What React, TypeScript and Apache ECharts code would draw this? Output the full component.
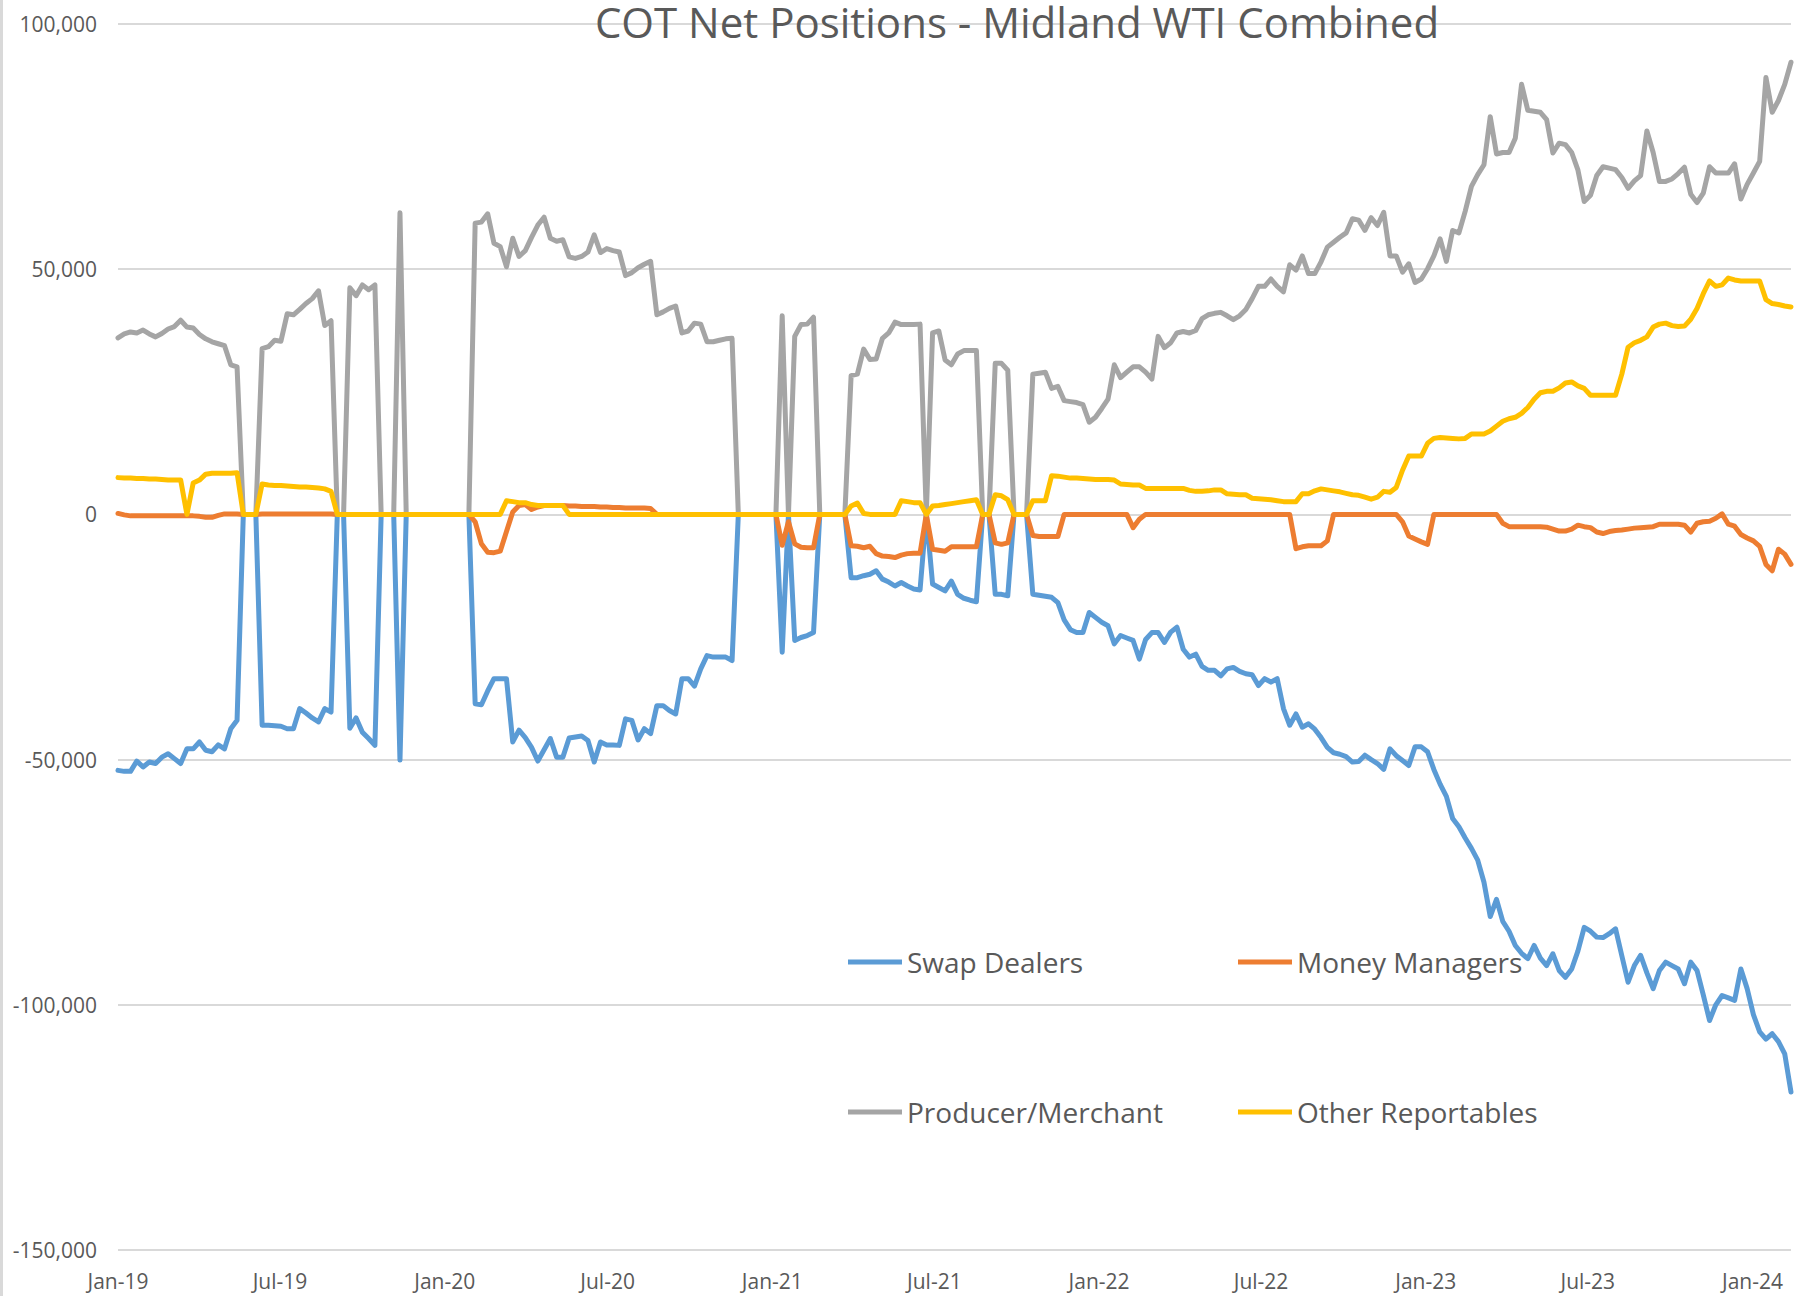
import React, { useEffect, useRef } from "react";
import * as echarts from "echarts";

// ---------------- data (weekly COT reports, thousands of contracts) ----------------
const chartTitle = "COT Net Positions - Midland WTI Combined";
const firstReportDate = "2019-01-01"; // weekly (Tuesday) reports from this date
const seriesNames = ["Swap Dealers", "Money Managers", "Producer/Merchant", "Other Reportables"];
const seriesColors = ["#5B9BD5", "#ED7D31", "#A5A5A5", "#FFC000"];
const xTickLabels = ["Jan-19", "Jul-19", "Jan-20", "Jul-20", "Jan-21", "Jul-21", "Jan-22", "Jul-22", "Jan-23", "Jul-23", "Jan-24"];
const yTicks = [-150000, -100000, -50000, 0, 50000, 100000];

const swapDealers = [
  -52.2, -52.4, -52.4, -50.3, -51.5, -50.5, -50.8, -49.5, -48.8, -49.8,
  -50.8, -47.8, -47.8, -46.4, -48.1, -48.4, -47.0, -47.8, -43.7, -42.0,
  0, 0, 0, -43.0, -43.0, -43.1, -43.2, -43.7, -43.7, -39.6,
  -40.5, -41.5, -42.3, -39.6, -40.3, 0, 0, -43.6, -41.5, -44.4,
  -45.7, -47.1, 0, 0, 0, -50.1, 0, 0, 0, 0,
  0, 0, 0, 0, 0, 0, 0, -38.6, -38.8, -36.0,
  -33.5, -33.5, -33.5, -46.4, -44.0, -45.5, -47.5, -50.3, -48.0, -45.7,
  -49.5, -49.5, -45.6, -45.4, -45.2, -46.1, -50.5, -46.4, -47.0, -47.0,
  -47.1, -41.7, -42.0, -46.0, -43.7, -44.7, -39.0, -39.0, -40.0, -40.7,
  -33.5, -33.5, -35.0, -31.5, -28.8, -29.1, -29.1, -29.1, -29.8, 0,
  0, 0, 0, 0, 0, 0, -28.1, 0, -25.7, -25.1,
  -24.7, -24.1, 0, 0, 0, 0, 0, -12.9, -12.9, -12.5,
  -12.2, -11.5, -13.2, -13.8, -14.6, -13.9, -14.6, -15.2, -15.4, 0,
  -14.2, -14.9, -15.6, -13.6, -16.3, -17.1, -17.5, -17.8, 0, 0,
  -16.3, -16.3, -16.6, 0, 0, 0, -16.3, -16.5, -16.7, -16.9,
  -18.0, -21.5, -23.5, -24.1, -24.1, -20.0, -21.0, -22.0, -22.7, -26.4,
  -24.7, -25.2, -25.7, -29.5, -25.5, -24.1, -24.1, -26.1, -24.0, -23.0,
  -27.5, -29.1, -28.5, -31.0, -31.8, -31.8, -32.9, -31.5, -31.2, -32.0,
  -32.5, -32.7, -34.9, -33.5, -34.2, -33.5, -39.6, -43.0, -40.7, -43.4,
  -42.7, -43.8, -45.5, -47.5, -48.6, -48.9, -49.4, -50.5, -50.4, -49.1,
  -50.0, -50.8, -52.0, -47.8, -49.2, -50.2, -51.2, -47.4, -47.4, -48.4,
  -52.0, -55.0, -57.5, -62.0, -63.7, -66.0, -68.1, -70.5, -75.0, -82.0,
  -78.5, -83.0, -85.0, -87.9, -89.5, -90.6, -87.9, -90.5, -92.0, -89.6,
  -93.0, -94.4, -92.7, -89.0, -84.2, -85.0, -86.2, -86.3, -85.5, -84.5,
  -90.0, -95.4, -92.0, -89.9, -93.5, -96.7, -93.0, -91.3, -92.0, -92.7,
  -95.7, -91.3, -93.0, -98.0, -103.2, -100.0, -98.1, -98.6, -99.1, -92.7,
  -96.7, -102.0, -105.5, -107.0, -105.9, -107.5, -110.0, -117.8,
];

const moneyManagers = [
  0.2, -0.1, -0.3, -0.3, -0.3, -0.3, -0.3, -0.3, -0.3, -0.3,
  -0.3, -0.3, -0.3, -0.4, -0.6, -0.6, -0.2, 0.1, 0.1, 0.1,
  0, 0, 0, 0.1, 0.1, 0.1, 0.1, 0.1, 0.1, 0.1,
  0.1, 0.1, 0.1, 0.1, 0.1, 0, 0, 0, 0, 0,
  0, 0, 0, 0, 0, 0, 0, 0, 0, 0,
  0, 0, 0, 0, 0, 0, 0, -1.5, -6.0, -7.7,
  -7.8, -7.5, -3.5, 0.5, 1.8, 2.0, 1.0, 1.5, 1.8, 1.8,
  1.8, 1.8, 1.7, 1.7, 1.6, 1.6, 1.6, 1.5, 1.5, 1.4,
  1.4, 1.3, 1.3, 1.3, 1.3, 1.2, 0, 0, 0, 0,
  0, 0, 0, 0, 0, 0, 0, 0, 0, 0,
  0, 0, 0, 0, 0, 0, -6.3, -1.5, -6.0, -6.7,
  -6.8, -6.8, 0, 0, 0, 0, 0, -6.4, -6.5, -6.8,
  -6.5, -8.0, -8.5, -8.6, -8.8, -8.3, -8.0, -7.9, -7.9, 0,
  -7.1, -7.3, -7.5, -6.6, -6.6, -6.6, -6.6, -6.6, 0, 0,
  -5.8, -6.1, -5.8, 0, 0, 0, -4.3, -4.5, -4.5, -4.5,
  -4.5, 0, 0, 0, 0, 0, 0, 0, 0, 0,
  0, 0, -2.7, -1.0, 0, 0, 0, 0, 0, 0,
  0, 0, 0, 0, 0, 0, 0, 0, 0, 0,
  0, 0, 0, 0, 0, 0, 0, 0, -7.0, -6.6,
  -6.4, -6.4, -6.4, -5.4, 0, 0, 0, 0, 0, 0,
  0, 0, 0, 0, 0, -1.5, -4.4, -5.0, -5.6, -6.1,
  0, 0, 0, 0, 0, 0, 0, 0, 0, 0,
  0, -1.8, -2.5, -2.5, -2.5, -2.5, -2.5, -2.5, -2.6, -3.0,
  -3.4, -3.4, -3.0, -2.2, -2.5, -2.7, -3.6, -3.9, -3.5, -3.3,
  -3.2, -3.0, -2.8, -2.7, -2.6, -2.5, -2.0, -2.0, -2.0, -2.0,
  -2.2, -3.6, -1.8, -1.5, -1.4, -0.8, 0.1, -2.0, -2.4, -4.1,
  -4.8, -5.4, -6.5, -10.2, -11.5, -7.1, -8.1, -10.2,
];

const producerMerchant = [
  36.0, 36.8, 37.2, 37.0, 37.6, 36.8, 36.2, 36.9, 37.8, 38.3,
  39.6, 38.2, 38.0, 36.7, 35.8, 35.2, 34.8, 34.4, 30.5, 30.1,
  0, 0, 0, 33.8, 34.2, 35.5, 35.3, 40.9, 40.7, 41.8,
  43.0, 44.0, 45.6, 38.5, 39.5, 0, 0, 46.2, 44.6, 46.8,
  45.8, 46.8, 0, 0, 0, 61.5, 0, 0, 0, 0,
  0, 0, 0, 0, 0, 0, 0, 59.4, 59.6, 61.3,
  55.3, 54.6, 50.5, 56.3, 52.6, 53.8, 56.5, 59.0, 60.6, 56.3,
  55.7, 56.0, 52.5, 52.2, 52.6, 53.5, 57.0, 53.4, 54.2, 53.8,
  53.5, 48.7, 49.3, 50.3, 51.0, 51.6, 40.7, 41.3, 42.0, 42.5,
  37.0, 37.4, 39.0, 38.8, 35.2, 35.2, 35.5, 35.8, 35.9, 0,
  0, 0, 0, 0, 0, 0, 40.5, 0, 36.3, 38.7,
  38.8, 40.2, 0, 0, 0, 0, 0, 28.3, 28.6, 33.7,
  31.6, 31.7, 35.9, 37.0, 39.2, 38.7, 38.7, 38.7, 38.8, 0,
  37.0, 37.4, 31.5, 30.5, 32.7, 33.4, 33.4, 33.4, 0, 0,
  30.8, 30.8, 29.4, 0, 0, 0, 28.6, 28.8, 29.0, 25.7,
  26.1, 23.2, 23.0, 22.8, 22.4, 18.8, 19.8, 21.6, 23.5, 30.5,
  27.9, 29.0, 30.1, 30.1, 29.0, 27.6, 36.3, 34.0, 35.0, 37.0,
  37.3, 37.0, 37.5, 39.9, 40.7, 41.0, 41.2, 40.5, 39.7, 40.5,
  41.8, 44.0, 46.5, 46.5, 48.0, 46.5, 45.4, 50.9, 49.8, 52.7,
  49.1, 49.1, 51.5, 54.5, 55.5, 56.5, 57.4, 60.3, 60.0, 57.9,
  60.5, 58.9, 61.6, 52.7, 52.7, 49.4, 51.1, 47.3, 48.0, 50.1,
  52.7, 56.2, 51.6, 57.9, 57.4, 61.8, 66.9, 69.3, 71.3, 81.1,
  73.5, 73.8, 73.8, 76.7, 87.7, 82.4, 82.2, 82.0, 80.5, 73.7,
  75.7, 75.4, 73.8, 70.2, 63.8, 65.1, 69.1, 70.9, 70.6, 70.3,
  68.7, 66.5, 68.0, 69.1, 78.2, 73.8, 67.9, 67.9, 68.4, 69.5,
  70.8, 65.3, 63.6, 65.5, 70.9, 69.6, 69.6, 69.6, 71.5, 64.3,
  67.3, 69.6, 72.0, 89.1, 82.0, 84.4, 87.7, 92.2,
];

const otherReportables = [
  7.5, 7.4, 7.4, 7.3, 7.3, 7.2, 7.2, 7.1, 7.0, 7.0,
  7.0, 0, 6.4, 7.0, 8.2, 8.4, 8.4, 8.4, 8.4, 8.5,
  0, 0, 0, 6.2, 6.0, 5.9, 5.9, 5.8, 5.7, 5.6,
  5.6, 5.5, 5.4, 5.2, 4.7, 0, 0, 0, 0, 0,
  0, 0, 0, 0, 0, 0, 0, 0, 0, 0,
  0, 0, 0, 0, 0, 0, 0, 0, 0, 0,
  0, 0, 2.8, 2.6, 2.4, 2.4, 2.0, 1.8, 1.8, 1.8,
  1.8, 1.8, 0, 0, 0, 0, 0, 0, 0, 0,
  0, 0, 0, 0, 0, 0, 0, 0, 0, 0,
  0, 0, 0, 0, 0, 0, 0, 0, 0, 0,
  0, 0, 0, 0, 0, 0, 0, 0, 0, 0,
  0, 0, 0, 0, 0, 0, 0, 1.7, 2.3, 0.2,
  0, 0, 0, 0, 0, 2.8, 2.6, 2.4, 2.4, 0,
  1.7, 1.8, 2.0, 2.2, 2.4, 2.6, 2.8, 3.0, 0, 0,
  4.0, 3.8, 3.0, 0, 0, 0, 2.8, 2.8, 2.8, 7.9,
  7.8, 7.6, 7.4, 7.4, 7.3, 7.2, 7.1, 7.1, 7.1, 7.0,
  6.2, 6.1, 6.0, 6.0, 5.3, 5.3, 5.3, 5.3, 5.3, 5.3,
  5.3, 4.9, 4.7, 4.7, 4.8, 5.0, 5.0, 4.2, 4.1, 4.0,
  4.0, 3.3, 3.2, 3.1, 3.0, 2.8, 2.6, 2.6, 2.6, 4.2,
  4.2, 4.8, 5.2, 5.0, 4.8, 4.6, 4.3, 4.0, 3.9, 3.5,
  3.1, 3.5, 4.7, 4.5, 5.5, 9.0, 11.9, 11.9, 11.9, 14.5,
  15.5, 15.7, 15.6, 15.5, 15.4, 15.5, 16.4, 16.4, 16.4, 17.0,
  18.0, 19.0, 19.5, 19.8, 20.6, 21.8, 23.5, 24.8, 25.1, 25.1,
  25.8, 26.8, 27.0, 26.2, 25.7, 24.3, 24.3, 24.3, 24.3, 24.3,
  28.6, 34.1, 35.0, 35.5, 36.2, 38.2, 38.8, 39.0, 38.5, 38.3,
  38.4, 39.8, 42.0, 45.0, 47.6, 46.5, 46.8, 48.2, 47.8, 47.6,
  47.6, 47.6, 47.6, 43.8, 43.0, 42.8, 42.5, 42.3,
];

const UNIT = 1000; // values above are in thousands of contracts

// ---------------- helpers ----------------
const MONTH_INDEX: Record<string, number> = {
  Jan: 0, Feb: 1, Mar: 2, Apr: 3, May: 4, Jun: 5, Jul: 6, Aug: 7, Sep: 8, Oct: 9, Nov: 10, Dec: 11,
};
const tickTime = (label: string) => {
  const [m, yy] = label.split("-");
  return new Date(2000 + Number(yy), MONTH_INDEX[m], 1).getTime();
};
const withCommas = (v: number) => String(v).replace(/\B(?=(\d{3})+(?!\d))/g, ",");

const FONT = "'Open Sans', 'Noto Sans', sans-serif";
const TEXT_COLOR = "#595959";

export default function App() {
  const ref = useRef<HTMLDivElement>(null);

  useEffect(() => {
    if (!ref.current) return;
    const chart = echarts.init(ref.current, null, { renderer: "svg" });

    const [sy, sm, sd] = firstReportDate.split("-").map(Number);
    const n = swapDealers.length;
    const weekTimes = Array.from({ length: n }, (_, i) => new Date(sy, sm - 1, sd + 7 * i).getTime());
    const tickValues = xTickLabels.map(tickTime);

    const allSeries = [swapDealers, moneyManagers, producerMerchant, otherReportables];

    const legendPos = [
      { left: 848, top: 947 },
      { left: 1238, top: 947 },
      { left: 848, top: 1097 },
      { left: 1238, top: 1097 },
    ];

    const option: any = {
      animation: false,
      backgroundColor: "#ffffff",
      grid: { left: 118, right: 15, top: 24, bottom: 46, containLabel: false },
      xAxis: {
        type: "value",
        min: weekTimes[0],
        max: weekTimes[n - 1],
        axisLine: { show: false },
        axisTick: { show: false },
        splitLine: { show: false },
        axisLabel: {
          customValues: tickValues,
          formatter: (v: number) => {
            const k = tickValues.findIndex((t) => Math.abs(t - v) < 86400000);
            return k >= 0 ? xTickLabels[k] : "";
          },
          fontFamily: FONT,
          fontSize: 21,
          color: TEXT_COLOR,
          margin: 20,
        },
      },
      yAxis: {
        type: "value",
        min: yTicks[0],
        max: yTicks[yTicks.length - 1],
        interval: 50000,
        axisLine: { show: false },
        axisTick: { show: false },
        splitLine: { lineStyle: { color: "#d9d9d9", width: 2 } },
        axisLabel: {
          formatter: (v: number) => withCommas(v),
          fontFamily: FONT,
          fontSize: 21,
          color: TEXT_COLOR,
          margin: 21,
        },
      },
      legend: seriesNames.map((name, k) => ({
        data: [name],
        left: legendPos[k].left,
        top: legendPos[k].top,
        padding: 0,
        icon: "rect",
        itemWidth: 54,
        itemHeight: 5,
        selectedMode: false,
        textStyle: { fontFamily: FONT, fontSize: 28, color: TEXT_COLOR, lineHeight: 30 },
      })),
      series: seriesNames.map((name, k) => ({
        type: "line",
        name,
        data: weekTimes.map((t, i) => [t, allSeries[k][i] * UNIT]),
        showSymbol: false,
        symbol: "none",
        color: seriesColors[k],
        lineStyle: { width: 5, color: seriesColors[k], cap: "round", join: "round" },
        itemStyle: { color: seriesColors[k] },
        emphasis: { disabled: true },
      })),
      graphic: [
        { type: "rect", left: 0, top: 0, shape: { width: 3, height: 1296 }, style: { fill: "#d9d9d9" }, silent: true },
        {
          type: "text",
          x: 1017,
          y: 0,
          z: 100,
          style: {
            text: chartTitle,
            fontFamily: FONT,
            fontSize: 42,
            fontWeight: "normal",
            lineHeight: 42,
            fill: TEXT_COLOR,
            textAlign: "center",
            textVerticalAlign: "top",
          },
        },
      ],
    };

    chart.setOption(option);
    return () => chart.dispose();
  }, []);

  return (
    <div
      ref={ref}
      style={{ position: "fixed", left: 0, top: 0, width: 1806, height: 1296, background: "#ffffff" }}
    />
  );
}
